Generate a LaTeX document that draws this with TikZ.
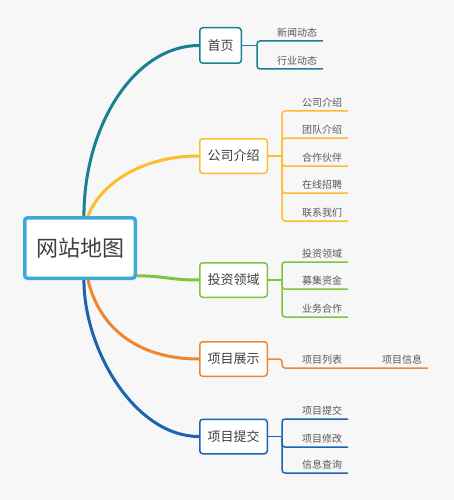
\documentclass[tikz,border=0pt]{standalone}
\usepackage{fontspec}
\newfontfamily\cjk{Noto Sans CJK SC}
\definecolor{cbg}{HTML}{F7F7F7}
\definecolor{cmain}{HTML}{3BABD6}
\definecolor{cteal}{HTML}{1A8093}
\definecolor{cyellow}{HTML}{FDBE2C}
\definecolor{cgreen}{HTML}{82C341}
\definecolor{corange}{HTML}{EE8632}
\definecolor{cblue}{HTML}{1B65B0}
\definecolor{ctext}{HTML}{404040}
\definecolor{csub}{HTML}{595959}
\begin{document}
\begin{tikzpicture}[x=1pt,y=-1pt,
  mapbox/.style={draw=cmain, line width=3.5pt, fill=white, rounded corners=3pt,
    minimum width=110.5pt, minimum height=60.5pt, inner sep=0pt,
    font=\cjk\fontsize{22}{26}\selectfont, text=ctext},
  topic/.style={draw=#1, line width=1.5pt, fill=white, rounded corners=3pt,
    minimum width=67.5pt, minimum height=34.5pt, inner sep=0pt,
    font=\cjk\fontsize{13}{15}\selectfont, text=ctext},
  sub/.style={anchor=south east, inner xsep=6pt, inner ysep=0pt, outer sep=0pt,
    text depth=4.5pt, font=\cjk\fontsize{10}{12}\selectfont, text=csub},
  branch/.style={draw=#1, line width=3pt},
  subline/.style={draw=#1, line width=1.5pt, rounded corners=3pt},
]
\fill[cbg] (0,0) rectangle (454,500);
\useasboundingbox (0,0) rectangle (454,500);

% main nodes
\node[mapbox] (map) at (80,248) {网站地图};
\node[topic=cteal, minimum width=41.5pt, minimum height=35.5pt] (home) at (220.5,45.5) {首页};
\node[topic=cyellow] (company) at (233.5,156) {公司介绍};
\node[topic=cgreen] (invest) at (233.5,280) {投资领域};
\node[topic=corange] (show) at (233.5,359) {项目展示};
\node[topic=cblue] (submit) at (233.5,436.5) {项目提交};

% branches
\draw[branch=cteal] (map.83) .. controls (84,125) and (135,45.5) .. (home.west);
\draw[branch=cyellow] (map.76) .. controls (100,185) and (140,156) .. (company.west);
\draw[branch=cgreen] (map.-26) .. controls (165,276) and (170,280) .. (invest.west);
\draw[branch=corange] (map.-76) .. controls (100,330) and (140,359) .. (show.west);
\draw[branch=cblue] (map.-83) .. controls (84,350) and (135,436.5) .. (submit.west);

% sub labels
\node[sub] (h1) at (323,41) {新闻动态};
\node[sub] (h2) at (323,69) {行业动态};

\node[sub] (c1) at (348,111) {公司介绍};
\node[sub] (c2) at (348,138) {团队介绍};
\node[sub] (c3) at (348,166) {合作伙伴};
\node[sub] (c4) at (348,193) {在线招聘};
\node[sub] (c5) at (348,221) {联系我们};

\node[sub] (i1) at (348,262) {投资领域};
\node[sub] (i2) at (348,289) {募集资金};
\node[sub] (i3) at (348,317) {业务合作};

\node[sub] (s1) at (348,368) {项目列表};
\node[sub] (s2) at (428,368) {项目信息};

\node[sub] (p1) at (348,419) {项目提交};
\node[sub] (p2) at (348,447) {项目修改};
\node[sub] (p3) at (348,473) {信息查询};

% sub connectors
\path (home.east) ++(15,0) coordinate (hb);
\draw[subline=cteal] (home.east) -- (hb);
\foreach \n in {h1,h2} \draw[subline=cteal] (hb) |- (\n.south east);

\path (company.east) ++(14,0) coordinate (cb);
\draw[subline=cyellow] (company.east) -- (cb);
\foreach \n in {c1,c2,c3,c4,c5} \draw[subline=cyellow] (cb) |- (\n.south east);

\path (invest.east) ++(14,0) coordinate (ib);
\draw[subline=cgreen] (invest.east) -- (ib);
\foreach \n in {i1,i2,i3} \draw[subline=cgreen] (ib) |- (\n.south east);

\path (show.east) ++(14,0) coordinate (sb);
\draw[subline=corange] (show.east) -- (sb) |- (s1.south east) -- (s2.south east);

\path (submit.east) ++(14,0) coordinate (pb);
\draw[subline=cblue] (submit.east) -- (pb);
\foreach \n in {p1,p2,p3} \draw[subline=cblue] (pb) |- (\n.south east);
\end{tikzpicture}
\end{document}
